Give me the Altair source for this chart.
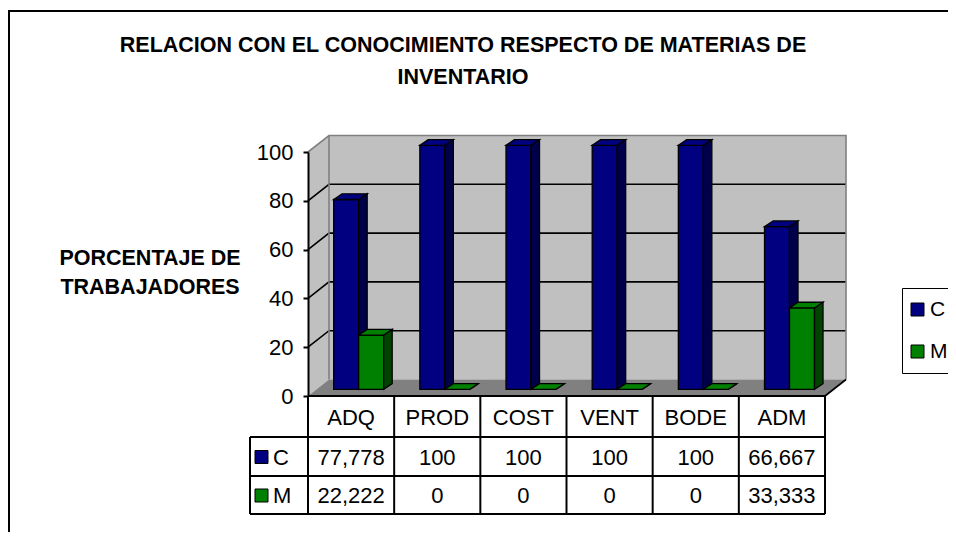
import altair as alt
import pandas as pd

# ---------------- data ----------------
categories = ["ADQ", "PROD", "COST", "VENT", "BODE", "ADM"]
series_names = ["C", "M"]
values_c = [77.778, 100, 100, 100, 100, 66.667]
values_m = [22.222, 0, 0, 0, 0, 33.333]
y_ticks = [0, 20, 40, 60, 80, 100]
title_lines = ["RELACION CON EL CONOCIMIENTO RESPECTO DE MATERIAS DE", "INVENTARIO"]
y_title_lines = ["PORCENTAJE DE", "TRABAJADORES"]

# ---------------- style / geometry ----------------
FONT = "Liberation Sans"
front_colors = ["#000080", "#008000"]
side_colors = ["#00004A", "#004400"]
WALL = "#C0C0C0"
FLOOR = "#808080"

W, H = 517, 244
n = len(categories)
PXU_X = W / n
PXU_Y = H / 100.0


def ux(px):
    return px / PXU_X


def uy(px):
    return px / PXU_Y


WALL_DX, WALL_DY = ux(21), uy(16.5)
BAR_SHIFT_X, BAR_SHIFT_Y = ux(7.6), uy(6.7)
BAR_W = ux(25)
BAR_DX, BAR_DY = ux(8.5), uy(5.7)
LEG_X = ux(-58)

xs = alt.Scale(domain=[0, n], nice=False, zero=False)
ys = alt.Scale(domain=[0, 100], nice=False, zero=False)


def X(f):
    return alt.X(f"{f}:Q", scale=xs, axis=None, stack=False)


def Y(f):
    return alt.Y(f"{f}:Q", scale=ys, stack=False)


def fmt(v):
    return str(int(v)) if float(v).is_integer() else f"{v:.3f}".replace(".", ",")


layers = []

# outer frame
layers.append(
    alt.Chart(pd.DataFrame({"a": [0]})).mark_rect(
        fill="white", fillOpacity=0, stroke="black", strokeWidth=2
    ).encode(x=alt.value(-299), x2=alt.value(700), y=alt.value(-141), y2=alt.value(450))
)

# value axis (explicit axis definition; other layers leave the axis at defaults)
y_axis = alt.Axis(
    values=y_ticks, grid=False, title=None, labelFont=FONT, labelFontSize=22, labelColor="black",
    labelFlush=False, labelPadding=10, domainColor="black", domainWidth=2, tickColor="black",
    tickWidth=2, tickSize=5, zindex=2, orient="left",
)
layers.append(
    alt.Chart(pd.DataFrame({"v": y_ticks})).mark_tick(opacity=0).encode(
        y=alt.Y("v:Q", scale=ys, axis=y_axis)
    )
)

# side wall
side_wall = pd.DataFrame({"x": [0, WALL_DX], "lo": [0, WALL_DY], "hi": [100, 100 + WALL_DY]})
layers.append(
    alt.Chart(side_wall).mark_area(orient="vertical", color=WALL).encode(
        x=X("x"), y=Y("hi"), y2=alt.Y2("lo")
    )
)

# back wall
back_wall = pd.DataFrame({"x": [WALL_DX], "x2": [n + WALL_DX], "y": [WALL_DY], "y2": [100 + WALL_DY]})
layers.append(
    alt.Chart(back_wall).mark_rect(color=WALL).encode(x=X("x"), x2=alt.X2("x2"), y=Y("y"), y2=alt.Y2("y2"))
)

# floor
floor = pd.DataFrame({"y": [0, WALL_DY], "x": [0, WALL_DX], "x2": [n, n + WALL_DX]})
layers.append(
    alt.Chart(floor).mark_area(orient="horizontal", color=FLOOR).encode(y=Y("y"), x=X("x"), x2=alt.X2("x2"))
)

# gridlines
grid_rows = []
for v in y_ticks[1:-1]:
    grid_rows += [
        {"g": v, "o": 0, "x": 0, "y": v},
        {"g": v, "o": 1, "x": WALL_DX, "y": v + WALL_DY},
        {"g": v, "o": 2, "x": n + WALL_DX, "y": v + WALL_DY},
    ]
layers.append(
    alt.Chart(pd.DataFrame(grid_rows)).mark_line(color="black", strokeWidth=1.6).encode(
        x=X("x"), y=Y("y"), detail="g:N", order="o:Q"
    )
)

# wall outline (grey)
outline = pd.DataFrame([
    {"g": "top", "o": 0, "x": 0, "y": 100},
    {"g": "top", "o": 1, "x": WALL_DX, "y": 100 + WALL_DY},
    {"g": "top", "o": 2, "x": n + WALL_DX, "y": 100 + WALL_DY},
    {"g": "top", "o": 3, "x": n + WALL_DX, "y": WALL_DY},
    {"g": "corner", "o": 0, "x": WALL_DX, "y": WALL_DY},
    {"g": "corner", "o": 1, "x": WALL_DX, "y": 100 + WALL_DY},
])
layers.append(
    alt.Chart(outline).mark_line(color="#808080", strokeWidth=1.6).encode(
        x=X("x"), y=Y("y"), detail="g:N", order="o:Q"
    )
)
floor_edge = pd.DataFrame([
    {"o": 0, "x": n + WALL_DX, "y": WALL_DY},
    {"o": 1, "x": n, "y": 0},
])
layers.append(
    alt.Chart(floor_edge).mark_line(color="black", strokeWidth=1.6).encode(x=X("x"), y=Y("y"), order="o:Q")
)

# bars
color_enc = alt.Color(
    "series:N",
    scale=alt.Scale(domain=series_names, range=front_colors),
    legend=alt.Legend(
        title=None, orient="none", legendX=594, legendY=136, symbolType="square", symbolSize=169,
        symbolStrokeColor="black", symbolStrokeWidth=1, symbolOffset=-6, labelFont=FONT,
        labelFontSize=21, labelColor="black", padding=11, rowPadding=20, labelOffset=2,
        strokeColor="black", fillColor="white",
    ),
)

for s, (name, vals) in enumerate(zip(series_names, [values_c, values_m])):
    front, side, top = [], [], []
    for i, v in enumerate(vals):
        center = i + 0.5 + BAR_SHIFT_X
        xl = center - BAR_W if s == 0 else center
        xr = xl + BAR_W
        y0 = BAR_SHIFT_Y
        y1 = y0 + v
        front.append({"series": name, "xl": xl, "xr": xr, "y0": y0, "y1": y1})
        side += [
            {"b": i, "x": xr, "lo": y0, "hi": y1},
            {"b": i, "x": xr + BAR_DX, "lo": y0 + BAR_DY, "hi": y1 + BAR_DY},
        ]
        top += [
            {"b": i, "y": y1, "x": xl, "x2": xr},
            {"b": i, "y": y1 + BAR_DY, "x": xl + BAR_DX, "x2": xr + BAR_DX},
        ]
    layers.append(
        alt.Chart(pd.DataFrame(front)).mark_rect(stroke="black", strokeWidth=1.3).encode(
            x=X("xl"), x2=alt.X2("xr"), y=Y("y1"), y2=alt.Y2("y0"), color=color_enc
        )
    )
    layers.append(
        alt.Chart(pd.DataFrame(side)).mark_area(
            orient="vertical", color=side_colors[s], stroke="black", strokeWidth=1.3, strokeJoin="miter"
        ).encode(x=X("x"), y=Y("hi"), y2=alt.Y2("lo"), detail="b:N")
    )
    layers.append(
        alt.Chart(pd.DataFrame(top)).mark_area(
            orient="horizontal", color=front_colors[s], stroke="black", strokeWidth=1.3, strokeJoin="miter"
        ).encode(y=Y("y"), x=X("x"), x2=alt.X2("x2"), detail="b:N")
    )

# floor front edge (category axis line)
layers.append(
    alt.Chart(pd.DataFrame({"x": [0], "x2": [n], "y": [0]})).mark_rule(color="black", strokeWidth=2).encode(
        x=X("x"), x2=alt.X2("x2"), y=Y("y")
    )
)

# ---------------- data table ----------------
ROW_LINES = [285, 324, 362]
TABLE_TOP = H
for yl in ROW_LINES:
    layers.append(
        alt.Chart(pd.DataFrame({"x": [LEG_X], "x2": [n]})).mark_rule(color="black", strokeWidth=2).encode(
            x=X("x"), x2=alt.X2("x2"), y=alt.value(yl)
        )
    )
layers.append(
    alt.Chart(pd.DataFrame({"x": list(range(n + 1))})).mark_rule(color="black", strokeWidth=2).encode(
        x=X("x"), y=alt.value(TABLE_TOP), y2=alt.value(ROW_LINES[-1])
    )
)
layers.append(
    alt.Chart(pd.DataFrame({"x": [LEG_X]})).mark_rule(color="black", strokeWidth=2).encode(
        x=X("x"), y=alt.value(ROW_LINES[0]), y2=alt.value(ROW_LINES[-1])
    )
)

header = pd.DataFrame({"cat": categories, "xc": [i + 0.5 for i in range(n)]})
layers.append(
    alt.Chart(header).mark_text(font=FONT, fontSize=22, color="black", baseline="middle").encode(
        x=X("xc"), y=alt.value(266), text="cat:N"
    )
)
row_centers = [305.5, 344]
for s, (name, vals) in enumerate(zip(series_names, [values_c, values_m])):
    df = pd.DataFrame({"xc": [i + 0.5 for i in range(n)], "lab": [fmt(v) for v in vals]})
    layers.append(
        alt.Chart(df).mark_text(font=FONT, fontSize=22, color="black", baseline="middle").encode(
            x=X("xc"), y=alt.value(row_centers[s]), text="lab:N"
        )
    )
    sw_top = row_centers[s] - 7
    layers.append(
        alt.Chart(pd.DataFrame({"series": [name]})).mark_rect(
            color=front_colors[s], stroke="black", strokeWidth=1
        ).encode(x=alt.value(-53), x2=alt.value(-40), y=alt.value(sw_top), y2=alt.value(sw_top + 13))
    )
    layers.append(
        alt.Chart(pd.DataFrame({"series": [name]})).mark_text(
            font=FONT, fontSize=22, color="black", align="left", baseline="middle"
        ).encode(x=alt.value(-35), y=alt.value(row_centers[s]), text="series:N")
    )

# ---------------- titles ----------------
for k, line in enumerate(title_lines):
    layers.append(
        alt.Chart(pd.DataFrame({"t": [line]})).mark_text(
            font=FONT, fontSize=21.5, fontWeight="bold", color="black", baseline="middle"
        ).encode(x=alt.value(155), y=alt.value(-106 + 32 * k), text="t:N")
    )
for k, line in enumerate(y_title_lines):
    layers.append(
        alt.Chart(pd.DataFrame({"t": [line]})).mark_text(
            font=FONT, fontSize=21.5, fontWeight="bold", color="black", baseline="middle"
        ).encode(x=alt.value(-158), y=alt.value(107 + 28.5 * k), text="t:N")
    )

chart = (
    alt.layer(*layers)
    .properties(
        width=W,
        height=H,
        autosize=alt.AutoSizeParams(type="none"),
        padding={"left": 300, "top": 144, "right": 123, "bottom": 136},
    )
    .configure_view(strokeWidth=0)
)

chart.save("out.html", embed_options={"renderer": "svg", "actions": False})
